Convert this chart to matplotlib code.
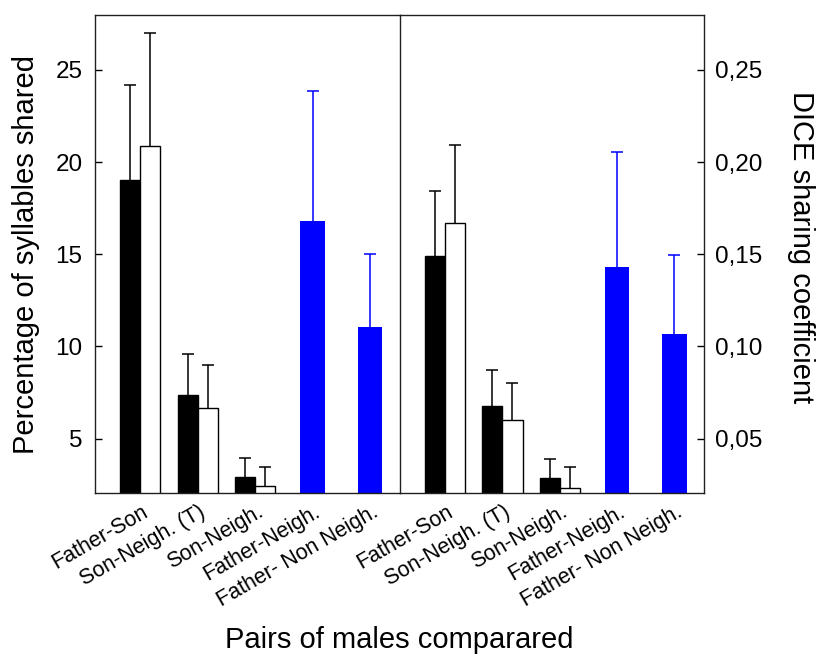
import numpy as np
import matplotlib.pyplot as plt
import matplotlib.transforms as mtransforms

plt.rcParams['font.family'] = ['Liberation Sans', 'DejaVu Sans']

pairs = ['Father-Son', 'Son-Neigh. (T)', 'Son-Neigh.', 'Father-Neigh.', 'Father- Non Neigh.']

# percentage of syllables shared
pct_black = [19.04, 7.36, 2.94]
pct_black_err = [5.13, 2.22, 1.03]
pct_white = [20.9, 6.68, 2.43]
pct_white_err = [6.1, 2.29, 1.02]
pct_blue = [16.82, 11.03]
pct_blue_err = [7.06, 3.97]

# DICE sharing coefficient
dice_black = [0.149, 0.0675, 0.0285]
dice_black_err = [0.0355, 0.020, 0.0103]
dice_white = [0.167, 0.060, 0.0231]
dice_white_err = [0.0422, 0.0201, 0.0114]
dice_blue = [0.1433, 0.1067]
dice_blue_err = [0.0621, 0.0428]

fig = plt.figure(figsize=(8.17, 6.57), dpi=100)
W, H = 817, 657
top, bot = 14.7, 493
axL = fig.add_axes([95 / W, 1 - bot / H, 305 / W, (bot - top) / H])
axR = fig.add_axes([400 / W, 1 - bot / H, 304 / W, (bot - top) / H])
axR.patch.set_visible(False)


def up_err(ax, x, y, err, color):
    # only the upper half of the error bar, no cap at the bar top
    eb = ax.errorbar(x, y, yerr=[np.zeros(len(y)), err], fmt='none', ecolor=color,
                     elinewidth=1.1, capsize=4.5, capthick=1.1)
    eb[1][0].set_visible(False)


def draw(ax, black, black_err, white, white_err, blue, blue_err):
    x3 = np.arange(3)
    xb = np.arange(3, 5)
    w = 0.35
    ax.bar(x3 - w / 2, black, w, color='black', edgecolor='black', linewidth=1.0)
    ax.bar(x3 + w / 2, white, w, color='white', edgecolor='black', linewidth=1.0)
    ax.bar(xb, blue, 0.43, color='#0000ff', linewidth=0)
    up_err(ax, x3 - w / 2, black, black_err, 'black')
    up_err(ax, x3 + w / 2, white, white_err, 'black')
    up_err(ax, xb, blue, blue_err, '#0000ff')
    ax.set_xlim(-0.79, 4.52)
    ax.set_xticks(np.arange(5))
    ax.set_xticklabels(pairs, rotation=30, ha='right', va='top',
                       rotation_mode='anchor', fontsize=15.5)
    ax.tick_params(axis='x', length=0, pad=6)
    offset = mtransforms.ScaledTranslation(1 / 100, 0, fig.dpi_scale_trans)
    for lab in ax.get_xticklabels():
        lab.set_transform(lab.get_transform() + offset)
    for sp in ax.spines.values():
        sp.set_linewidth(1.0)
        sp.set_color('#202020')


draw(axL, pct_black, pct_black_err, pct_white, pct_white_err, pct_blue, pct_blue_err)
draw(axR, dice_black, dice_black_err, dice_white, dice_white_err, dice_blue, dice_blue_err)

axL.set_ylim(2.05, 28.0)
axL.set_yticks([5, 10, 15, 20, 25])
axL.tick_params(axis='y', direction='in', length=5, width=1.0, labelsize=17.5, pad=9)
axL.spines['right'].set_zorder(5)

axR.set_ylim(0.0205, 0.280)
rticks = [0.05, 0.10, 0.15, 0.20, 0.25]
axR.set_yticks(rticks)
axR.set_yticklabels([f'{v:.2f}'.replace('.', ',') for v in rticks])
axR.yaxis.tick_right()
axR.tick_params(axis='y', direction='in', length=5, width=1.0, labelsize=17.5, pad=8)
axR.spines['left'].set_visible(False)

fig.text(26 / W, 1 - 254 / H, 'Percentage of syllables shared', rotation=90,
         ha='center', va='center', fontsize=21)
fig.text(801 / W, 1 - 247 / H, 'DICE sharing coefficient', rotation=270,
         ha='center', va='center', fontsize=21)
fig.text(399.5 / W, 1 - 640 / H, 'Pairs of males comparared',
         ha='center', va='center', fontsize=21)

fig.savefig('out.png', dpi=100)
